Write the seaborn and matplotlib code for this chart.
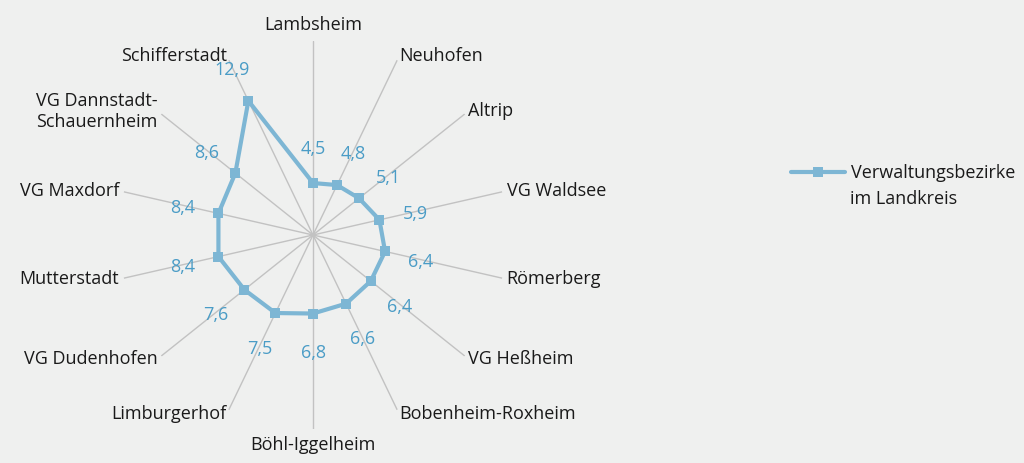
import numpy as np
import pandas as pd
import seaborn as sns
import matplotlib.pyplot as plt
import matplotlib.transforms as mtrans

# ===================== Data =====================
categories = ["Lambsheim", "Neuhofen", "Altrip", "VG Waldsee", "Römerberg",
              "VG Heßheim", "Bobenheim-Roxheim", "Böhl-Iggelheim", "Limburgerhof",
              "VG Dudenhofen", "Mutterstadt", "VG Maxdorf",
              "VG Dannstadt-\nSchauernheim", "Schifferstadt"]
values = [4.5, 4.8, 5.1, 5.9, 6.4, 6.4, 6.6, 6.8, 7.5, 7.6, 8.4, 8.4, 8.6, 12.9]
series_name = ["Verwaltungsbezirke", "im Landkreis"]

bg = "#eff0ef"
line_col = "#7db6d4"
label_col = "#4a9cc6"
spoke_col = "#c2c2c2"
text_col = "#1a1a1a"
rmax = 16.8

sns.set_theme(style="white")
plt.rcParams["font.family"] = ["Open Sans", "DejaVu Sans"]

n = len(categories)
theta = np.arange(n) * 2 * np.pi / n
df = pd.DataFrame({"theta": np.append(theta, 2 * np.pi),
                   "value": values + values[:1]})

fig = plt.figure(figsize=(10.24, 4.63), dpi=100, facecolor=bg)
ax = fig.add_axes([119 / 1024, 34 / 463, 388 / 1024, 388 / 463], projection="polar")
ax.set_facecolor(bg)
ax.set_theta_zero_location("N")
ax.set_theta_direction(-1)

sns.lineplot(data=df, x="theta", y="value", ax=ax, color=line_col, linewidth=3,
             marker="s", markersize=7, markeredgewidth=0, label=series_name[0],
             sort=False)

ax.set_ylim(0, rmax)
ax.set_yticks([])
ax.set_xticks(theta)
ax.set_xticklabels([])
ax.xaxis.grid(True, color=spoke_col, linewidth=1)
ax.yaxis.grid(False)
ax.spines["polar"].set_visible(False)
ax.set_xlabel("")
ax.set_ylabel("")

# ===================== Category labels =====================
for t, name in zip(theta, categories):
    deg = np.degrees(t)
    if np.isclose(deg, 0):
        ha, va, r = "center", "bottom", 17.4
    elif np.isclose(deg, 180):
        ha, va, r = "center", "top", 17.4
    elif deg < 180:
        ha, va, r = "left", "center", 17.2
    else:
        ha, va, r = "right", "center", 17.2
    ax.text(t, r, name, ha=ha, va=va, fontsize=13, color=text_col,
            multialignment="center", clip_on=False)

# ===================== Data labels =====================
shift = mtrans.offset_copy(ax.transData, fig=fig, x=0, y=-2.5, units="dots")
for t, v in zip(theta, values):
    ax.text(t, v + 3.2, f"{v:.1f}".replace(".", ","), ha="center", va="center",
            fontsize=13, color=label_col, clip_on=False, transform=shift)

# ===================== Legend =====================
leg = ax.legend(loc="center left", bbox_to_anchor=(791 / 1024, 1 - 173 / 463),
                bbox_transform=fig.transFigure, frameon=False, fontsize=13,
                handlelength=3.0, handletextpad=0.3, borderpad=0, borderaxespad=0)
for txt in leg.get_texts():
    txt.set_color(text_col)
fig.text(850 / 1024, 1 - 199 / 463, series_name[1], ha="left", va="center",
         fontsize=13, color=text_col)

fig.savefig("out.png", dpi=100, facecolor=bg)
